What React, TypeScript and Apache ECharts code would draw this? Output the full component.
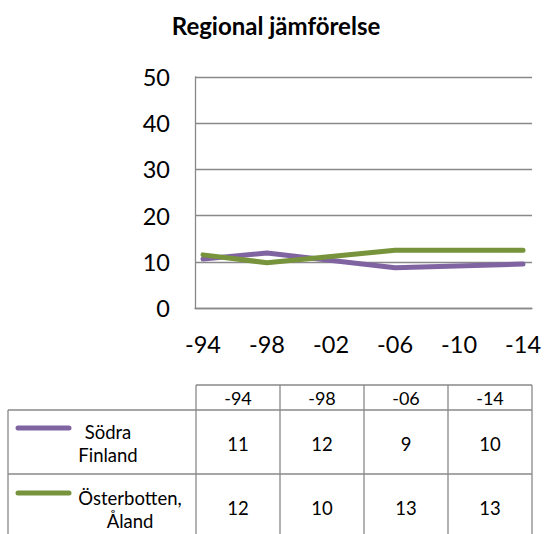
import React, { useEffect, useRef } from "react";
import * as echarts from "echarts";

// ---- data ----
const titleText = "Regional jämförelse";
const dataYears = [1994, 1998, 2006, 2014];
const tickYears = [1994, 1998, 2002, 2006, 2010, 2014];
const seriesNames = ["Södra Finland", "Österbotten, Åland"];
const legendLabels = ["Södra\nFinland", "Österbotten,\nÅland"];
const sodraFinland = [10.6, 11.9, 8.7, 9.5];
const osterbottenAland = [11.5, 9.8, 12.5, 12.5];
const sodraTable = [11, 12, 9, 10];
const osterTable = [12, 10, 13, 13];
const yMin = 0;
const yMax = 50;
const yStep = 10;

const colors = ["#8064A2", "#77933C"];
const FONT = "Lato";
const GRID_COLOR = "#898989";

const fmtYear = (v: number) => "-" + String(Math.round(v)).slice(2);

export default function App() {
  const ref = useRef<HTMLDivElement>(null);
  useEffect(() => {
    if (!ref.current) return;
    const chart = echarts.init(ref.current, undefined, { renderer: "svg" });

    const seriesValues = [sodraFinland, osterbottenAland];
    const tableValues = [sodraTable, osterTable];

    // table layout
    const leftX = 8;
    const colX = [196, 280, 364, 448, 532];
    const tableTop = 385;
    const headerBottom = 410;
    const rowBottoms = [474, 540];
    const border = { stroke: GRID_COLOR, lineWidth: 1.3 };
    const g: any[] = [];
    g.push({ type: "line", shape: { x1: colX[0], y1: tableTop, x2: colX[4], y2: tableTop }, style: border });
    g.push({ type: "line", shape: { x1: leftX, y1: headerBottom, x2: colX[4], y2: headerBottom }, style: border });
    g.push({ type: "line", shape: { x1: leftX, y1: rowBottoms[0], x2: colX[4], y2: rowBottoms[0] }, style: border });
    g.push({ type: "line", shape: { x1: leftX, y1: headerBottom, x2: leftX, y2: rowBottoms[1] }, style: border });
    colX.forEach((x) => {
      g.push({ type: "line", shape: { x1: x, y1: tableTop, x2: x, y2: rowBottoms[1] }, style: border });
    });
    dataYears.forEach((yr, i) => {
      const cx = (colX[i] + colX[i + 1]) / 2;
      g.push({
        type: "text",
        x: cx,
        y: (tableTop + headerBottom) / 2,
        style: { text: fmtYear(yr), fontSize: 18, fontFamily: FONT, fill: "#000", align: "center", verticalAlign: "middle" },
      });
    });
    const rowCenters = [444, 508];
    const labelCx = [108, 130];
    tableValues.forEach((vals, r) => {
      vals.forEach((v, i) => {
        const cx = (colX[i] + colX[i + 1]) / 2;
        g.push({
          type: "text",
          x: cx,
          y: rowCenters[r],
          style: { text: String(v), fontSize: 18.5, fontFamily: FONT, fill: "#000", align: "center", verticalAlign: "middle" },
        });
      });
      const keyY = [428, 493][r];
      g.push({
        type: "line",
        shape: { x1: 18, y1: keyY, x2: 69, y2: keyY },
        style: { stroke: colors[r], lineWidth: 5, lineCap: "round" },
      });
      g.push({
        type: "text",
        x: labelCx[r],
        y: [443, 509][r],
        style: {
          text: legendLabels[r],
          fontSize: 18.5,
          lineHeight: 23,
          fontFamily: FONT,
          fill: "#000",
          align: "center",
          verticalAlign: "middle",
        },
      });
    });

    chart.setOption({
      animation: false,
      backgroundColor: "#fff",
      title: {
        text: titleText,
        left: 271,
        textAlign: "center",
        top: 8,
        textStyle: { fontFamily: FONT, fontWeight: "bold", fontSize: 24, color: "#000" },
      },
      grid: { left: 195, right: 13, top: 77, bottom: 226, containLabel: false },
      xAxis: {
        type: "value",
        min: 1993.5,
        max: 2014.56,
        splitLine: { show: false },
        axisTick: { show: false },
        axisLine: { show: true, lineStyle: { color: GRID_COLOR, width: 1.3 } },
        axisLabel: {
          customValues: tickYears,
          formatter: (v: number) => fmtYear(v),
          fontFamily: FONT,
          fontSize: 23.5,
          color: "#000",
          margin: 24,
        },
      },
      yAxis: {
        type: "value",
        min: yMin,
        max: yMax,
        interval: yStep,
        axisLine: { show: true, lineStyle: { color: GRID_COLOR, width: 1.3 } },
        axisTick: { show: false },
        splitLine: { show: true, lineStyle: { color: GRID_COLOR, width: 1.3 } },
        axisLabel: { fontFamily: FONT, fontSize: 23.5, color: "#000", margin: 25 },
      },
      series: seriesValues.map((vals, i) => ({
        name: seriesNames[i],
        type: "line",
        data: dataYears.map((yr, j) => [yr, vals[j]]),
        symbol: "none",
        lineStyle: { color: colors[i], width: 5, cap: "round", join: "round" },
        itemStyle: { color: colors[i] },
      })),
      graphic: g,
    });
    return () => chart.dispose();
  }, []);
  return (
    <div
      ref={ref}
      style={{ position: "fixed", left: 0, top: 0, width: 545, height: 534 }}
    />
  );
}
